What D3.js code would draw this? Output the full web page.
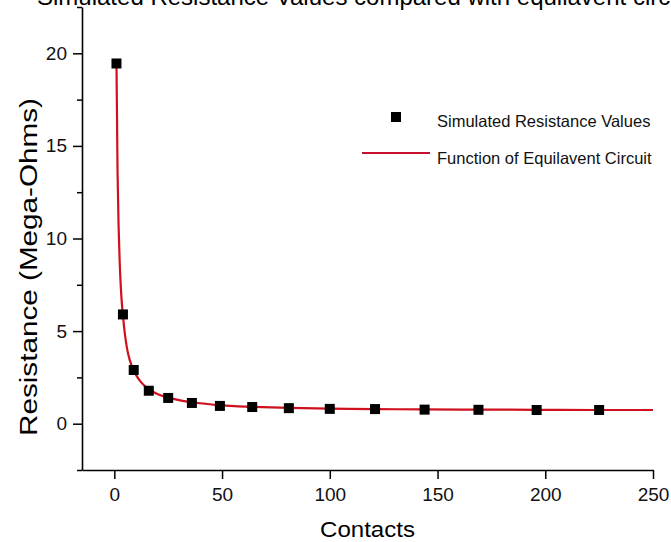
<!DOCTYPE html>
<html>
<head>
<meta charset="utf-8">
<script src="https://cdn.jsdelivr.net/npm/d3@7"></script>
<style>
  html, body { margin: 0; padding: 0; background: #fff; }
  svg { display: block; font-family: "Liberation Sans", Arial, sans-serif; }
</style>
</head>
<body>
<svg></svg>
<script>
const WIDTH = 671;
const HEIGHT = 542;

// simulated points (contacts = n^2)
var contacts = [1, 4, 9, 16, 25, 36, 49, 64, 81, 100, 121, 144, 169, 196, 225];
var resistance = [19.45, 5.9, 2.9, 1.78, 1.39, 1.12, 0.96, 0.9, 0.84, 0.8, 0.79, 0.76, 0.75, 0.74, 0.74];

// equivalent circuit curve
var curveX = [1, 1.5, 2, 2.5, 3, 3.5, 4, 5, 6, 7, 8, 9, 10, 12, 14, 16, 20, 25, 30, 36, 42, 49, 56, 64, 81, 100, 121, 144, 169, 196, 225, 250];
var curveY = [19.45, 13.6, 10.6, 8.7, 7.4, 6.5, 5.85, 4.75, 4.0, 3.5, 3.15, 2.88, 2.65, 2.3, 2.05, 1.86, 1.6, 1.41, 1.27, 1.16, 1.08, 1.0, 0.95, 0.91, 0.85, 0.81, 0.79, 0.77, 0.76, 0.75, 0.74, 0.74];

var xTicks = [0, 50, 100, 150, 200, 250];
var yTicks = [0, 5, 10, 15, 20];
var yMinorTicks = [-2.5, 2.5, 7.5, 12.5, 17.5, 22.5];

var legendLabels = ['Simulated Resistance Values', 'Function of Equilavent Circuit'];

var svg = d3.select('svg')
    .attr('width', WIDTH)
    .attr('height', HEIGHT);

var xScale = d3.scaleLinear().domain([-15, 250]).range([82, 653]);
var yScale = d3.scaleLinear().domain([-2.5, 22.5]).range([470, 7]);

// title (cut at top and right in the original)
svg.append('text')
    .attr('x', 37)
    .attr('y', 5)
    .attr('font-size', 24)
    .attr('fill', '#000')
    .text('Simulated Resistance Values compared with equilavent circuit');

// minor y ticks
var yMinor = svg.append('g')
    .attr('transform', 'translate(82,0)')
    .call(d3.axisLeft(yScale).tickValues(yMinorTicks).tickSize(5).tickFormat(''));
yMinor.select('.domain').remove();
yMinor.selectAll('line').attr('stroke', '#000').attr('stroke-width', 1.5);

// axes
var xAxis = svg.append('g')
    .attr('transform', 'translate(0,470)')
    .call(d3.axisBottom(xScale).tickValues(xTicks).tickSize(9).tickSizeOuter(0).tickPadding(9));
var yAxis = svg.append('g')
    .attr('transform', 'translate(82,0)')
    .call(d3.axisLeft(yScale).tickValues(yTicks).tickSize(9).tickSizeOuter(0).tickPadding(6));

[xAxis, yAxis].forEach(function(a) {
    a.select('.domain').attr('stroke', '#000').attr('stroke-width', 1.6);
    a.selectAll('line').attr('stroke', '#000').attr('stroke-width', 1.5);
    a.selectAll('text')
        .attr('font-size', 19)
        .attr('font-family', '"Liberation Sans", Arial, sans-serif')
        .attr('fill', '#111');
});

// axis titles
svg.append('text')
    .attr('x', 367.5)
    .attr('y', 537)
    .attr('text-anchor', 'middle')
    .attr('font-size', 22)
    .attr('textLength', 95)
    .attr('lengthAdjust', 'spacingAndGlyphs')
    .text('Contacts');

svg.append('text')
    .attr('transform', 'translate(36.5,267) rotate(-90)')
    .attr('text-anchor', 'middle')
    .attr('font-size', 23)
    .attr('textLength', 338)
    .attr('lengthAdjust', 'spacingAndGlyphs')
    .text('Resistance (Mega-Ohms)');

// fitted curve
var line = d3.line()
    .x(function(d) { return xScale(d[0]); })
    .y(function(d) { return yScale(d[1]); })
    .curve(d3.curveMonotoneX);

svg.append('path')
    .datum(d3.zip(curveX, curveY))
    .attr('d', line)
    .attr('fill', 'none')
    .attr('stroke', '#d0101e')
    .attr('stroke-width', 2.2);

// simulated points
var S = 10;
svg.selectAll('rect.pt')
    .data(d3.zip(contacts, resistance))
    .enter()
    .append('rect')
    .attr('class', 'pt')
    .attr('x', function(d) { return xScale(d[0]) - S / 2; })
    .attr('y', function(d) { return yScale(d[1]) - S / 2; })
    .attr('width', S)
    .attr('height', S)
    .attr('fill', '#000');

// legend
var legend = svg.append('g');
legend.append('rect')
    .attr('x', 391).attr('y', 112).attr('width', 10).attr('height', 10)
    .attr('fill', '#000');
legend.append('line')
    .attr('x1', 362).attr('x2', 430).attr('y1', 153).attr('y2', 153)
    .attr('stroke', '#c8102e').attr('stroke-width', 2.2);
legend.selectAll('text')
    .data(legendLabels)
    .enter()
    .append('text')
    .attr('x', 437)
    .attr('y', function(d, i) { return 126.5 + i * 37.5; })
    .attr('font-size', 16.5)
    .attr('fill', '#111')
    .text(function(d) { return d; });
</script>
</body>
</html>
